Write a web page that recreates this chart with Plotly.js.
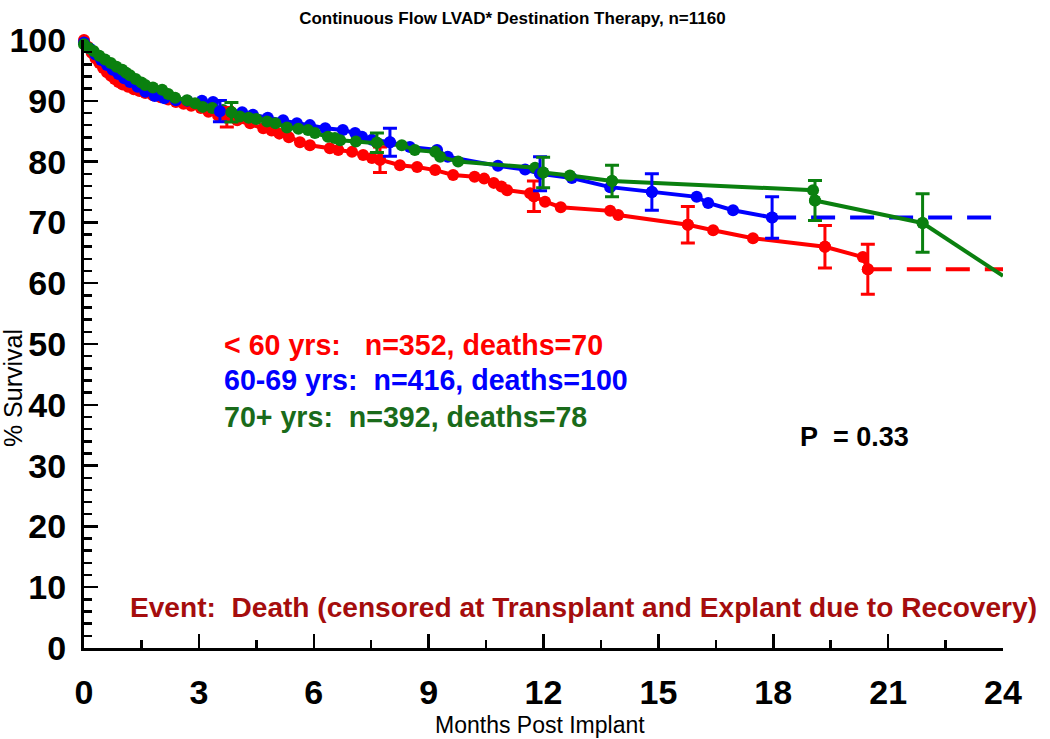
<!DOCTYPE html>
<html>
<head>
<meta charset="utf-8">
<script src="https://cdn.plot.ly/plotly-3.0.1.min.js"></script>
<style>html,body{margin:0;padding:0;background:#fff;}#chart{width:1050px;height:739px;}</style>
</head>
<body>
<div id="chart"></div>
<script>
// ---- Data ----
const redMonths = [0,0.1,0.2,0.3,0.4,0.5,0.6,0.7,0.8,0.9,1.0,1.15,1.3,1.45,1.6,1.8,2.0,2.2,2.4,2.6,2.8,3.05,3.25,3.5,3.73,4.0,4.34,4.68,4.9,5.1,5.35,5.64,5.9,6.42,6.64,7.0,7.29,7.52,7.73,8.25,8.7,9.17,9.64,10.2,10.45,10.7,10.9,11.05,11.65,11.75,12.04,12.45,13.74,13.95,15.77,16.43,17.47,19.35,20.34,20.47];
const redSurv   = [100,98.9,97.9,97.0,96.2,95.4,94.7,94.1,93.6,93.1,92.7,92.3,91.9,91.6,91.3,90.9,90.6,90.2,89.8,89.5,89.2,88.8,88.2,87.6,87.3,86.8,86.3,85.5,85.1,84.6,84.0,83.2,82.7,82.2,81.9,81.6,81.1,80.6,80.3,79.4,79.1,78.6,77.8,77.5,77.2,76.5,75.9,75.3,74.8,74.3,73.4,72.5,71.9,71.2,69.6,68.7,67.4,66.0,64.3,62.3];
const redBarMonths = [3.73,7.73,11.75,15.77,19.35,20.47];
const redBarSurv   = [87.3,80.3,74.3,69.6,66.0,62.3];
const redBarErr    = [1.6,2.1,2.5,3.0,3.5,4.1];

const blueMonths = [0,0.15,0.3,0.45,0.6,0.75,0.9,1.05,1.2,1.4,1.6,1.85,2.1,2.4,2.7,3.08,3.37,3.55,4.13,4.41,4.8,5.2,5.56,5.9,6.3,6.76,7.08,7.26,7.52,7.99,8.51,9.22,9.5,10.81,11.52,11.91,12.74,13.74,14.83,16.0,16.3,16.95,17.97];
const blueSurv   = [99.6,98.6,97.6,96.7,95.9,95.1,94.4,93.7,93.1,92.3,91.5,90.8,90.4,90.1,90.0,90.0,89.8,88.3,88.1,87.7,87.2,86.8,86.3,86.0,85.5,85.2,84.7,84.1,83.6,83.2,82.4,81.9,80.8,79.3,78.7,78.0,77.3,75.8,75.0,74.2,73.2,72.0,70.8];
const blueBarMonths = [3.55,7.99,11.91,14.83,17.97];
const blueBarSurv   = [88.3,83.2,78.0,75.0,70.8];
const blueBarErr    = [1.75,2.3,2.8,3.0,3.4];

const greenMonths = [0,0.12,0.25,0.4,0.55,0.7,0.85,1.0,1.1,1.2,1.35,1.5,1.6,1.8,2.04,2.2,2.38,2.69,2.9,3.1,3.35,3.63,3.85,4.07,4.3,4.5,4.78,5.0,5.3,5.6,5.85,6.03,6.37,6.55,6.69,7.1,7.65,8.3,8.64,9.17,9.3,9.77,11.78,11.99,12.69,13.79,19.04,19.09,21.9,24];
const greenSurv   = [99.3,98.7,98.2,97.4,96.8,96.2,95.6,95.1,94.6,94.2,93.6,93.0,92.6,92.2,91.8,91.1,90.5,90.1,89.6,89.0,88.8,88.5,88.1,87.4,87.2,87.0,86.6,86.3,85.6,85.4,85.2,84.7,84.1,83.9,83.5,83.3,83.1,82.7,81.9,81.6,80.8,80.0,79.0,78.2,77.7,76.8,75.3,73.6,69.9,61.2];
const greenBarMonths = [3.85,7.65,11.99,13.79,19.09,21.9];
const greenBarSurv   = [88.1,83.1,78.2,76.8,73.6,69.9];
const greenBarErr    = [1.6,1.6,2.5,2.6,3.3,4.8];

const xTicks = [0,3,6,9,12,15,18,21,24];
const yTicks = [0,10,20,30,40,50,60,70,80,90,100];

const groupLabels = ["< 60 yrs:\u00a0\u00a0\u00a0n=352, deaths=70",
                     "60-69 yrs:\u00a0\u00a0n=416, deaths=100",
                     "70+ yrs:\u00a0\u00a0n=392, deaths=78"];
const pValueText = "P\u00a0\u00a0= 0.33";
const eventText = "Event:\u00a0\u00a0Death (censored at Transplant and Explant due to Recovery)";
const chartTitle = "Continuous Flow LVAD* Destination Therapy, n=1160";
const xTitle = "Months Post Implant";
const yTitle = "% Survival";

// ---- Styles ----
const RED = "#ff0000", BLUE = "#0000ff", GREEN = "#0a800f";
const FONT = "Liberation Sans, Arial, sans-serif";
const LW = 4, MS = 12;

function mainTrace(x, y, c) {
  return {x: x, y: y, type: "scatter", mode: "lines+markers", cliponaxis: false,
          line: {color: c, width: LW}, marker: {color: c, size: MS}, hoverinfo: "skip", showlegend: false};
}
function barTrace(x, y, e, c) {
  return {x: x, y: y, type: "scatter", mode: "markers", cliponaxis: false,
          marker: {color: c, size: MS},
          error_y: {type: "data", array: e, visible: true, color: c, thickness: 3, width: 7},
          hoverinfo: "skip", showlegend: false};
}
function dashTrace(x, y, c) {
  return {x: [x[x.length-1], 24], y: [y[y.length-1], y[y.length-1]], type: "scatter", mode: "lines",
          cliponaxis: false, line: {color: c, width: LW, dash: "24px,15px"}, hoverinfo: "skip", showlegend: false};
}

const nG = greenMonths.length;
const traces = [
  dashTrace(redMonths, redSurv, RED),
  dashTrace(blueMonths, blueSurv, BLUE),
  {x: greenMonths.slice(nG-2), y: greenSurv.slice(nG-2), type: "scatter", mode: "lines", cliponaxis: false,
   line: {color: GREEN, width: LW}, hoverinfo: "skip", showlegend: false},
  mainTrace(redMonths, redSurv, RED),
  mainTrace(blueMonths, blueSurv, BLUE),
  mainTrace(greenMonths.slice(0, nG-1), greenSurv.slice(0, nG-1), GREEN),
  barTrace(redBarMonths, redBarSurv, redBarErr, RED),
  barTrace(blueBarMonths, blueBarSurv, blueBarErr, BLUE),
  barTrace(greenBarMonths, greenBarSurv, greenBarErr, GREEN)
];

const tickFont = {family: FONT, size: 34, color: "#000", weight: 700};
const layout = {
  width: 1050, height: 739,
  margin: {l: 84, r: 47, t: 40, b: 91},
  paper_bgcolor: "#fff", plot_bgcolor: "#fff",
  title: {text: chartTitle, font: {family: FONT, size: 17, color: "#000", weight: 700},
          x: 0.488, xanchor: "center", xref: "container", y: 0.984, yanchor: "top", yref: "container", pad: {t: 0}},
  xaxis: {range: [0, 24], tickmode: "array", tickvals: xTicks, ticktext: xTicks.map(String),
          ticks: "inside", ticklen: 14, tickwidth: 2.5, tickcolor: "#000",
          minor: {dtick: 1.5, tick0: 0, ticks: "inside", ticklen: 8, tickwidth: 2.5, tickcolor: "#000"},
          showline: true, linewidth: 3, linecolor: "#000", showgrid: false, zeroline: false,
          tickfont: tickFont, ticklabelstandoff: 12},
  yaxis: {range: [0, 100], tickmode: "array", tickvals: yTicks, ticktext: yTicks.map(String),
          ticks: "inside", ticklen: 14, tickwidth: 2.5, tickcolor: "#000",
          minor: {dtick: 2, tick0: 0, ticks: "inside", ticklen: 8, tickwidth: 2.5, tickcolor: "#000"},
          showline: true, linewidth: 3, linecolor: "#000", showgrid: false, zeroline: false,
          tickfont: tickFont, ticklabelstandoff: 8},
  annotations: [
    {text: groupLabels[0], x: 3.6, y: 49.8, xref: "x", yref: "y", xanchor: "left", yanchor: "middle", showarrow: false,
     font: {family: FONT, size: 28.6, color: "#ff0000", weight: 700}},
    {text: groupLabels[1], x: 3.6, y: 44.0, xref: "x", yref: "y", xanchor: "left", yanchor: "middle", showarrow: false,
     font: {family: FONT, size: 28.6, color: "#0000ff", weight: 700}},
    {text: groupLabels[2], x: 3.6, y: 38.0, xref: "x", yref: "y", xanchor: "left", yanchor: "middle", showarrow: false,
     font: {family: FONT, size: 28.6, color: "#1a6b1a", weight: 700}},
    {text: pValueText, x: 18.65, y: 34.7, xref: "x", yref: "y", xanchor: "left", yanchor: "middle", showarrow: false,
     font: {family: FONT, size: 27, color: "#000", weight: 700}},
    {text: eventText, x: 1.15, y: 6.6, xref: "x", yref: "y", xanchor: "left", yanchor: "middle", showarrow: false,
     font: {family: FONT, size: 28.1, color: "#a50d0d", weight: 700}},
    {text: yTitle, x: -0.078, y: 0.428, xref: "paper", yref: "paper", xanchor: "center", yanchor: "middle",
     textangle: -90, showarrow: false, font: {family: FONT, size: 25, color: "#000"}},
    {text: xTitle, x: 0.496, y: -0.126, xref: "paper", yref: "paper", xanchor: "center", yanchor: "middle",
     showarrow: false, font: {family: FONT, size: 23, color: "#000"}}
  ]
};

Plotly.newPlot("chart", traces, layout, {displayModeBar: false, staticPlot: true});
</script>
</body>
</html>
